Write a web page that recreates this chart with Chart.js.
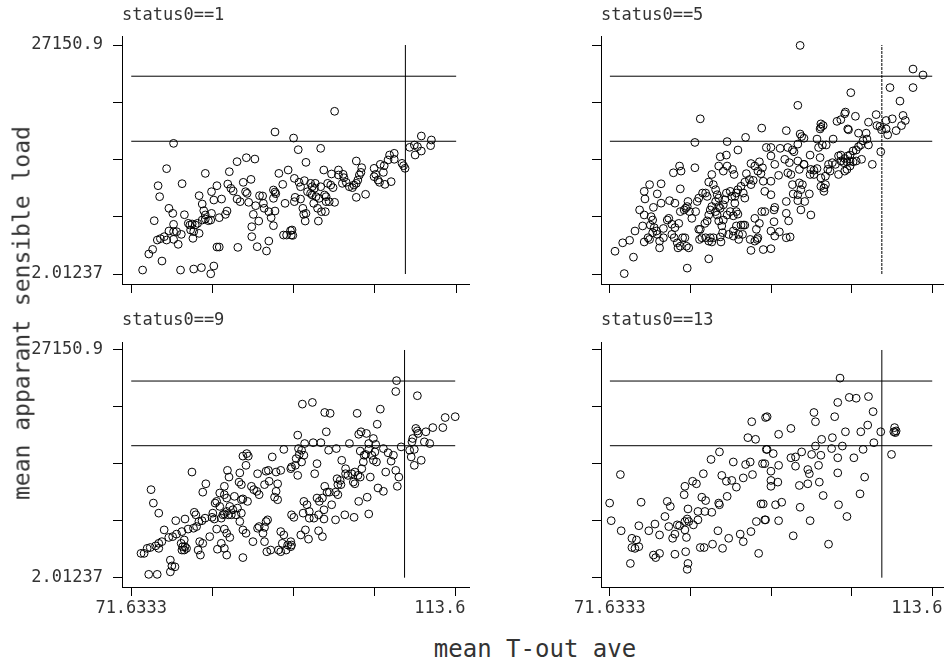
<!DOCTYPE html>
<html>
<head>
<meta charset="utf-8">
<script src="https://cdn.jsdelivr.net/npm/chart.js@4/dist/chart.umd.min.js"></script>
<style>
html,body{margin:0;padding:0;background:#fff;}
#wrap{position:relative;width:948px;height:663px;overflow:hidden;background:#fff;}
#wrap canvas{position:absolute;}
.ytitle{position:absolute;left:22px;top:313px;transform:translate(-50%,-50%) rotate(-90deg);font-family:"DejaVu Sans Mono";font-size:23px;line-height:1;white-space:nowrap;color:#333;}
.xtitle{position:absolute;left:535px;top:649px;transform:translate(-50%,-50%);font-family:"DejaVu Sans Mono";font-size:24px;line-height:1;white-space:nowrap;color:#333;}
</style>
</head>
<body>
<div id="wrap">
  <canvas id="c1" width="474" height="300" style="left:0;top:0;"></canvas>
  <canvas id="c2" width="474" height="300" style="left:474px;top:0;"></canvas>
  <canvas id="c3" width="474" height="320" style="left:0;top:300px;"></canvas>
  <canvas id="c4" width="474" height="320" style="left:474px;top:300px;"></canvas>
  <div class="ytitle">mean apparant sensible load</div>
  <div class="xtitle">mean T-out ave</div>
</div>
<script>
// ---------- data ----------
const panelTitles = ['status0==1', 'status0==5', 'status0==9', 'status0==13'];
const xTicks = [71.6333, 82.1250, 92.6167, 103.1083, 113.6];
const yTicks = [2.01237, 6789.23, 13576.46, 20363.68, 27150.9];
const xTickLabels = ['71.6333', '', '', '', '113.6'];
const yTickLabels = ['2.01237', '', '', '', '27150.9'];
const refLinesY = [15740, 23450];
const refLineX = 107.04;

const status1 = [[73.1,470],[73.9,2370],[74.4,2920],[74.6,6320],[75.1,10470],[75.3,9170],[75.0,4030],[75.4,4190],[75.9,4430],[76.2,4030],[75.6,1540],[76.2,12490],[76.5,7790],[77.0,7190],[77.1,5890],[76.5,5100],[77.1,5020],[77.5,5020],[77.1,4110],[77.7,3520],[77.1,15490],[78.0,470],[78.1,4700],[78.2,10710],[78.5,7030],[79.0,6010],[79.2,5810],[79.5,5930],[79.9,5810],[80.2,6010],[79.3,5220],[79.7,5020],[79.6,4230],[80.4,4820],[79.7,590],[80.7,750],[80.4,9290],[80.8,8300],[81.2,11930],[81.0,7510],[81.2,7000],[82.0,7190],[80.8,6400],[81.2,6520],[81.6,6320],[81.9,6400],[81.9,30],[82.3,950],
[82.0,9760],[82.3,8770],[82.7,10470],[83.3,8890],[82.7,3200],[83.0,3200],[83.0,6680],[84.0,7470],[83.8,7070],[84.3,12130],[84.1,10670],[84.5,10160],[84.8,9840],[85.3,13320],[85.4,3160],[85.3,8890],[85.7,8580],[86.1,10870],[86.4,9760],[86.6,9560],[86.5,13790],[86.8,8500],[87.6,13630],[87.2,5610],[87.2,4430],[87.4,7070],[87.7,8100],[87.9,3240],[88.1,6280],[87.1,11220],[88.2,9290],[88.6,9250],[88.7,8380],[88.8,7790],[89.1,2730],[89.4,3910],[89.4,7390],[89.7,6680],[90.0,9960],[90.2,9720],[90.3,9520],[90.0,8970],[90.0,5730],[90.2,7470],[90.2,16840],[90.7,11930],[91.2,10630],[91.3,4620],[91.7,4620],[92.2,5140],[92.3,4620],[91.9,12330],[91.5,8380],
[92.6,16120],[93.2,14740],[96.1,14900],[94.2,13240],[92.7,11340],[93.3,10870],[93.5,10350],[94.0,11070],[92.8,9090],[92.7,8580],[93.5,8890],[96.5,12330],[97.5,11860],[98.4,12330],[94.8,10750],[95.0,10350],[95.4,10750],[94.4,9760],[94.8,9560],[95.0,9370],[95.5,9170],[95.9,8970],[96.6,9370],[96.8,9170],[95.3,10160],[96.1,10350],[97.0,10750],[97.4,10550],[97.7,10240],[96.8,8580],[97.2,8580],[97.9,8500],[93.8,7790],[94.2,7190],[93.9,7070],[94.1,6280],[95.2,8380],[95.7,7790],[96.2,7390],[96.7,7390],[95.8,6280],[92.4,5220],[92.5,4580],[97.9,19290],[98.4,11740],[98.9,10750],[99.1,11420],[99.0,11820],[100.4,10550],[100.2,10240],[100.7,10750],[100.9,11140],[101.1,11740],[101.3,12050],[100.7,9090],[100.7,13400],[101.4,12610],[101.9,9450],[103.0,12530],[103.2,11820],[103.0,11540],[103.5,11140],[103.7,10870],[103.8,13000],[104.3,12840],[104.2,12050],[104.4,10630],[105.2,10950],[104.8,13520],[105.0,14110],[105.6,14310],[105.6,13600],[106.6,13120],[106.8,12840],[107.0,12530],[107.6,15020],[108.2,15290],[108.3,14110],[109.1,14580],[108.6,15100],[109.1,16360],[110.4,15890],[110.3,15220],[99.4,10870],[99.8,10350]];

const status5 = [[96.4,27100],[111.1,24300],[112.4,23600],[108.1,22100],[111.1,22100],[103.0,21500],[109.4,20500],[96.1,20000],[83.4,18400],
[102.3,19200],[102.2,19000],[101.2,18100],[101.7,18300],[103.6,18700],[102.6,17200],[106.3,18900],[105.3,18000],[109.8,18800],[110.1,18200],[108.4,18400],[107.6,18200],[99.1,17800],[99.1,17400],[99.4,17600],[99.0,17200],[94.6,17000],[96.4,16600],[96.6,16300],[96.9,16100],[98.6,16000],[98.8,15000],[99.3,15300],[99.8,15300],[100.7,16000],[102.7,17100],[104.0,16700],[105.0,16700],[105.1,16000],[106.4,17600],[106.8,17500],[107.0,17100],[107.6,17200],[107.8,16500],[108.9,17000],[109.6,17600],[91.4,17300],[89.3,16200],[82.7,15600],[86.9,15700],[88.3,14700],[92.0,15000],[92.6,15000],[93.8,14900],[94.8,15000],[95.4,14700],[96.1,15400],[95.6,14500],
[104.6,15800],[104.3,15300],[104.0,15100],[103.7,14700],[103.3,14600],[102.9,14100],[102.6,14000],[102.2,13700],[101.7,14100],[101.4,14000],[101.7,13400],[102.1,13200],[102.5,13300],[102.9,13400],[103.3,13300],[103.7,13400],[104.4,13600],[105.3,15300],[105.8,13000],[106.9,14500],[92.6,14000],[93.1,13000],[94.4,13600],[95.0,13200],[96.1,13400],[96.9,13000],[97.7,14100],[99.0,13800],
[97.8,12400],[98.2,12300],[98.6,12500],[97.7,11800],[98.2,11800],[99.1,11400],[99.7,11600],[100.1,13000],[100.6,13200],[101.0,13000],[100.0,12400],[100.3,12200],[101.4,11800],[102.2,12200],[102.5,12400],[102.9,12800],[93.6,11700],[94.8,12000],[95.2,11800],[96.3,12400],[96.9,13000],
[95.4,10600],[96.3,10800],[96.7,10600],[96.5,10000],[95.5,9500],[96.1,9400],[97.6,9500],[99.5,10200],[99.7,10600],[99.1,10400],[99.5,9800],[92.6,11000],[92.6,9400],[94.6,8600],[96.1,8700],[97.0,8600],[93.1,7900],[93.0,7600],[96.5,7600],[97.8,7000],[94.6,7200],[94.9,6300],[93.0,6200],[92.6,5100],[93.7,5000],[93.1,4500],[94.6,4300],[95.1,4400],[92.6,3000],
[86.0,13900],[86.8,14100],[80.7,12800],[79.9,12000],[80.9,12200],[82.7,12600],[85.8,12800],[86.9,12800],[86.4,12200],[87.6,12400],[87.8,11800],[90.0,13100],[90.5,12800],[91.1,13300],[91.5,12600],[90.9,12200],[91.3,11900],[89.4,11900],[89.8,11200],[90.3,11100],[89.2,10900],[90.0,10600],[76.8,10600],[78.3,10700],[76.1,9800],[77.8,9500],[76.2,8900],[77.3,7900],[78.3,8400],[80.8,10100],[79.4,8700],[80.1,8400],[75.5,7600],[76.1,7000],[77.0,6800],[77.2,6400],[75.9,5700],[76.9,5800],[74.9,5100],[77.4,5500],[77.7,5100],[77.8,4700],[77.2,4900],[76.6,4300],[76.8,4100],[76.1,3800],[78.1,3900],
[78.6,5400],[79.1,6400],[79.3,6600],[79.7,5900],[80.1,5500],[80.6,6000],[80.8,7400],[81.3,7600],[81.5,7800],[81.7,8000],[81.8,8600],[82.0,7400],[82.3,6600],[82.8,7400],[83.0,8600],[83.2,9000],[83.7,9600],[84.1,9600],[84.3,9200],[84.5,10900],[84.9,11800],[85.1,10600],[85.4,10000],[85.6,9400],[85.8,9000],[85.4,8600],[84.9,8000],[84.7,7600],[84.5,7000],[84.3,6300],[84.0,6000],[83.4,5300],[83.6,4300],[84.1,4300],[84.7,4300],[85.1,4300],[85.4,7400],[85.8,8000],[86.0,7800],[86.4,8200],[86.6,8800],[86.8,9600],[87.3,9800],[87.5,9200],[87.9,9200],[88.1,9600],[88.3,10000],[88.7,10400],[89.0,9600],[89.2,9000],[87.9,8400],[87.3,7400],[86.9,7000],[86.4,6400],[86.2,5700],[85.8,6300],[85.6,7000],[86.3,4900],[87.1,4700],[87.7,5100],[88.1,5700],[88.4,4700],[88.7,5800],[89.0,5800],[88.3,7100],[87.7,6900],[88.1,7400],[90.5,6600],[90.7,5300],[90.9,4300],[91.1,6000],[91.4,7400],[91.6,11000],[91.8,9800],[91.8,7400],
[78.1,3100],[78.6,4300],[79.7,4700],[80.0,4300],[80.4,3700],[80.5,3100],[80.8,3300],[81.1,4300],[81.4,4300],[81.6,3300],[81.9,3100],[83.2,5300],[83.3,4100],[84.5,3900],[84.9,3800],[86.0,4400],[86.1,3800],[87.7,4500],[88.4,4100],[88.9,4700],[89.2,5800],[89.9,4100],[90.0,2800],[90.5,3900],[90.8,4100],[91.6,2900],[84.5,1800],[81.7,700],[74.7,2000],[72.3,2700],[73.3,3700],[74.2,4000],[73.5,50]];

const status9 = [[91.4,15300],[89.9,14400],[86.1,14500],[86.6,14800],[86.8,14500],[86.5,13400],[79.5,12600],[84.1,12800],[84.3,12000],[85.7,12500],[85.6,11400],[85.9,11100],[88.0,12400],[89.1,12700],[89.4,12800],[90.4,12600],[91.0,12800],[92.3,13000],[81.3,11200],[80.9,10200],[83.7,10900],[83.7,9900],[83.1,10100],[84.0,9500],[82.5,8900],[82.7,9100],[87.2,10900],[87.5,10500],[87.9,10300],[88.2,9900],[88.9,11100],[89.5,11500],[90.6,11200],[90.4,10300],[90.2,9600],[90.6,9300],[85.9,9300],[86.1,9400],[86.7,9100],[85.0,9700],[84.4,8500],[84.8,8100],[85.4,8300],[85.9,7700],[85.2,7500],[84.6,7500],[84.0,7900],[84.2,7500],[83.5,7500],[83.1,8500],[74.2,10500],[74.5,8900],[75.2,7700],[79.8,7800],[80.0,7500],[80.4,6700],[80.8,6800],[81.2,7100],[82.1,7200],[82.4,7000],[83.3,7100],[83.7,7600],[82.2,7700],[77.4,6800],[78.6,7000],[79.0,5800],[79.7,5900],[80.1,6100],[78.2,5500],[77.5,5200],[77.0,4900],[76.5,4800],[75.9,5700],[75.6,4300],[75.2,4100],[74.8,3800],[74.1,3600],[73.7,3500],[73.3,2900],[72.9,2900],[75.2,3500],[78.1,4100],[78.3,3700],[78.6,3700],[78.8,3500],[78.2,3300],[78.5,3300],[78.5,4500],[80.5,4300],[80.3,3300],[80.6,2700],[80.9,4100],[81.8,4900],[82.7,5800],[82.8,3400],[83.3,4100],[83.7,5800],[84.0,5300],[84.4,4800],[83.7,3500],[84.0,2700],[85.7,6700],[86.1,5700],[86.5,5300],[86.1,2400],[87.4,4300],[88.0,5900],[88.2,6100],[88.9,6000],[88.7,5300],[88.9,4300],[89.1,6700],[89.3,6900],[91.0,5500],[91.4,5100],[91.2,4100],[91.7,3300],[91.9,3900],[92.3,4300],[90.7,3300],[91.0,3100],[89.7,3300],[89.2,3100],[76.7,2100],[76.9,1400],[77.3,1300],[76.7,700],[73.9,400],[75.0,400],
[106.0,23500],[105.9,22200],[108.7,21700],[93.8,20700],[95.1,20900],[96.7,19700],[97.4,19600],[100.9,19600],[103.9,20100],[103.5,18300],[93.2,17000],[96.9,17400],[101.1,17100],[101.4,17400],[102.1,17200],[103.0,16600],[108.5,17800],[108.7,17500],[108.8,17200],[109.8,17400],[110.7,17900],[112.0,17900],[112.3,19100],[113.6,19200],[109.6,16200],[110.3,16000],[108.1,16600],[108.0,16200],[106.6,15600],[107.7,15200],[108.3,15300],[107.9,14400],[109.2,14000],[108.3,13400],[94.1,16000],[95.2,16100],[96.2,16100],[98.2,15400],[97.2,15200],[99.9,16000],[102.4,16000],[103.3,15900],[102.4,15300],[104.3,15400],[104.9,14900],[105.6,14600],[105.3,13900],[93.3,15400],[93.7,15200],[93.4,14700],[94.0,14600],[93.0,14200],[93.7,13800],[92.9,13400],[92.4,13200],[93.2,12200],[101.3,15100],[101.8,14600],[102.0,14700],[101.7,13800],[102.8,14600],[103.0,14000],[103.4,13800],[103.2,15000],[98.9,14000],[95.7,13600],[95.4,12400],[99.4,13000],[99.4,12400],[99.7,12200],[100.2,12400],[100.6,12600],[101.0,12200],[101.3,12000],[101.5,13000],[102.6,12000],[100.4,11400],[100.6,11200],[98.7,11600],[98.3,11800],[98.4,11100],[98.8,11100],[104.6,12600],[105.9,12800],[106.3,12000],[106.1,10900],[103.6,10700],[104.3,10300],[101.1,9100],[102.2,9600],[96.7,10900],[97.0,10200],[97.3,10200],[98.1,10200],[98.4,9900],[95.7,9500],[96.4,9500],[96.0,9100],[94.0,9100],[94.4,8700],[93.9,7700],[94.7,7900],[97.6,8700],[98.1,6900],[99.3,7500],[100.5,7200],[102.4,7600],[96.6,8100],[96.6,7000],[95.9,7500],[95.3,7100],[94.7,7100],[92.4,7500],[92.7,7200],[94.2,5700],[93.6,5100],[94.6,4600],[95.9,5600],[96.4,4900],[92.4,3900],[92.3,3700]];

const status13 = [[90.1,18600],[91.9,19100],[89.6,16700],[90.6,16500],[92.0,15300],[85.9,15000],[84.8,14100],[87.7,13800],[89.3,13500],[89.9,13800],[91.5,13600],[73.0,12300],[83.8,12400],[82.4,11500],[82.9,11200],[81.4,10900],[81.3,9900],[86.2,12200],[86.8,11500],[87.5,11600],[88.1,10800],[89.0,11900],[90.2,12300],[83.6,9600],[84.1,9200],[85.8,8900],[85.9,8700],[86.9,9700],[71.6,8900],[75.7,9000],[79.1,9100],[79.5,8500],[81.8,8200],[71.8,6800],[73.1,5600],[83.1,7900],[84.0,7900],[84.9,7800],[91.3,8800],[75.4,6200],[76.7,5600],[77.5,6400],[78.1,5100],[78.8,7300],[79.3,6100],[80.4,6300],[80.7,6200],[81.4,6700],[81.7,7000],[81.9,6700],[82.5,6300],[83.1,6900],[81.4,5700],[81.6,4800],[79.8,4700],[80.1,5200],[74.5,4700],[75.1,4500],[74.9,3500],[75.4,3700],[74.5,3600],[77.3,2700],[77.6,2400],[78.1,2900],[74.3,1700],[80.1,2800],[81.5,3100],[81.8,1700],[81.7,1000],[83.4,3600],[83.9,3600],[85.0,4000],[86.3,3500],[87.1,4700],[88.6,5200],[89.0,4300],[90.0,5500],[91.0,2900],[90.7,6700],[91.8,6900],[85.7,5600],
[101.6,23800],[102.8,21500],[103.7,21400],[105.3,21600],[101.3,20900],[105.9,19800],[92.1,19200],[98.2,19700],[98.4,18600],[100.9,19200],[105.2,18200],[104.3,17400],[102.3,17400],[100.6,16700],[99.2,16500],[98.4,15700],[101.9,15700],[100.5,15400],[106.9,17400],[106.0,16100],[104.6,15300],[95.2,17800],[93.6,17100],[108.7,17900],[108.9,17500],[108.6,17400],[108.8,17300],[108.3,14700],[92.1,15300],[92.9,14800],[95.2,14300],[95.8,14400],[96.6,15000],[97.9,14700],[99.1,14600],[101.3,14300],[103.4,14300],[91.8,13600],[93.6,13400],[92.6,12700],[95.8,13300],[97.4,12900],[97.6,12400],[98.8,13400],[101.3,12500],[92.6,11600],[92.6,10900],[93.5,11400],[96.3,11000],[97.4,11200],[98.9,11400],[104.8,12000],[99.4,9800],[104.2,10000],[91.6,8800],[93.2,8700],[94.0,9000],[96.4,8400],[101.4,8700],[102.5,7300],[91.9,6900],[93.6,6800],[97.7,6800],[95.5,5000],[100.1,4000]];

// ---------- drawing ----------
const FONT = '"DejaVu Sans Mono", monospace';
const panels = [
  {id:'c1', title:panelTitles[0], pts:status1,  xLab:false, yLab:true,  yw:122, xh:16, padR:3, tTop:5,  tBot:10.6, xmin:70.4386, xmax:115.27, ymin:-1183.5, ymax:28217.9, vDash:[]},
  {id:'c2', title:panelTitles[1], pts:status5,  xLab:false, yLab:false, yw:127, xh:16, padR:1, tTop:5,  tBot:10.6, xmin:70.4747, xmax:115.016, ymin:-1183.5, ymax:28217.9, vDash:[3,1]},
  {id:'c3', title:panelTitles[2], pts:status9,  xLab:true,  yLab:true,  yw:122, xh:33, padR:2, tTop:10, tBot:11.6, xmin:70.4386, xmax:115.40, ymin:-1106.8, ymax:28104.7, vDash:[]},
  {id:'c4', title:panelTitles[3], pts:status13, xLab:true,  yLab:false, yw:127, xh:33, padR:1, tTop:10, tBot:11.6, xmin:70.4747, xmax:115.016, ymin:-1106.8, ymax:28104.7, vDash:[]}
];

function refDataset(data, dash) {
  return {type:'line', data:data, showLine:true, borderColor:'#000', borderWidth:1, borderDash:dash||[],
          pointRadius:0, pointHoverRadius:0, fill:false, tension:0, order:2};
}

panels.forEach(p => {
  const datasets = [
    refDataset([{x:xTicks[0], y:refLinesY[1]}, {x:xTicks[4], y:refLinesY[1]}]),
    refDataset([{x:xTicks[0], y:refLinesY[0]}, {x:xTicks[4], y:refLinesY[0]}]),
    refDataset([{x:refLineX, y:yTicks[0]}, {x:refLineX, y:yTicks[4]}], p.vDash),
    {type:'scatter', data:p.pts.map(d => ({x:d[0], y:d[1]})), pointStyle:'circle', pointRadius:3.9, pointHoverRadius:3.9,
     pointBorderWidth:1, borderColor:'#000', backgroundColor:'rgba(0,0,0,0)', showLine:false, order:1}
  ];
  new Chart(document.getElementById(p.id), {
    type:'scatter',
    data:{datasets:datasets},
    options:{
      responsive:false, animation:false, devicePixelRatio:1, events:[],
      layout:{padding:{left:0, right:p.padR, top:0, bottom:0}},
      plugins:{
        legend:{display:false}, tooltip:{enabled:false},
        title:{display:true, text:p.title, align:'start', fullSize:false, color:'#333',
               font:{family:FONT, size:17, weight:'normal', lineHeight:1.2},
               padding:{top:p.tTop, bottom:p.tBot}}
      },
      scales:{
        x:{type:'linear', position:'bottom', min:p.xmin, max:p.xmax,
           afterBuildTicks:s => { s.ticks = xTicks.map(v => ({value:v})); },
           afterFit:s => { s.height = p.xh; s.paddingLeft = 0; s.paddingRight = 0; },
           ticks:{autoSkip:false, maxRotation:0, minRotation:0, padding:2, color:'#333',
                  font:{family:FONT, size:17},
                  callback:(v, i) => p.xLab ? (i === 4 ? xTickLabels[i] + '\u2007\u2007\u2007' : xTickLabels[i]) : ''},
           grid:{display:true, drawOnChartArea:false, drawTicks:true, tickLength:9, color:'#000', lineWidth:1},
           border:{display:true, color:'#000', width:1}},
        y:{type:'linear', position:'left', min:p.ymin, max:p.ymax,
           afterBuildTicks:s => { s.ticks = yTicks.map(v => ({value:v})); },
           afterFit:s => { s.width = p.yw; s.paddingTop = 0; s.paddingBottom = 0; },
           ticks:{autoSkip:false, padding:10, color:'#333', font:{family:FONT, size:17},
                  callback:(v, i) => p.yLab ? yTickLabels[i] : ''},
           grid:{display:true, drawOnChartArea:false, drawTicks:true, tickLength:9, color:'#000', lineWidth:1},
           border:{display:true, color:'#000', width:1}}
      }
    }
  });
});
</script>
</body>
</html>
